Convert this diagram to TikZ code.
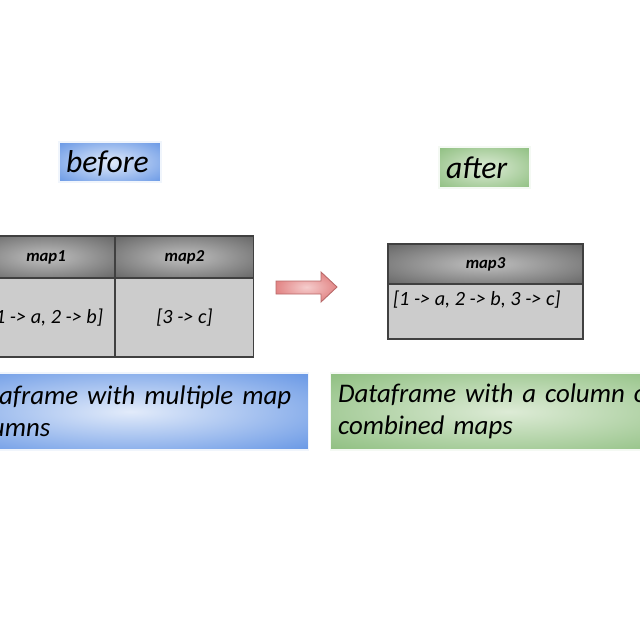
\documentclass[tikz,border=0pt]{standalone}
\usepackage{fontspec}
\setmainfont{Carlito}
\usepackage{tikz}
\usetikzlibrary{positioning}
\definecolor{dfblue}{HTML}{6D9BE6}
\definecolor{dfbluelight}{HTML}{E2EBFA}
\definecolor{dfgreen}{HTML}{92C184}
\definecolor{dfgreenlight}{HTML}{DDEBD6}
\definecolor{dfgray}{HTML}{6A6A6A}
\definecolor{dfgraylight}{HTML}{C0C0C0}
\definecolor{dfbody}{HTML}{CCCCCC}
\definecolor{dfred}{HTML}{DD7272}
\definecolor{dfredlight}{HTML}{F5CDCD}
\definecolor{dfredline}{HTML}{B86A6A}
\pgfdeclareradialshading{blueglow}{\pgfpoint{0bp}{0bp}}{color(0bp)=(dfbluelight); color(34bp)=(dfblue); color(50bp)=(dfblue)}
\pgfdeclareradialshading{greenglow}{\pgfpoint{0bp}{0bp}}{color(0bp)=(dfgreenlight); color(34bp)=(dfgreen); color(50bp)=(dfgreen)}
\pgfdeclareradialshading{grayglow}{\pgfpoint{0bp}{0bp}}{color(0bp)=(dfgraylight); color(34bp)=(dfgray); color(50bp)=(dfgray)}
\pgfdeclareradialshading{redglow}{\pgfpoint{0bp}{0bp}}{color(0bp)=(dfredlight); color(32bp)=(dfred); color(50bp)=(dfred)}
\tikzset{
  bluebox/.style={shading=blueglow, draw=white!90!dfblue, line width=0.6pt, outer sep=0pt},
  greenbox/.style={shading=greenglow, draw=white!90!dfgreen, line width=0.6pt, outer sep=0pt},
  tagtext/.style={font=\itshape\fontsize{18}{20}\selectfont, align=left, inner sep=0pt},
  notetext/.style={font=\itshape\fontsize{15.3}{18.2}\selectfont, align=left, inner sep=0.16cm},
  headcell/.style={shading=grayglow, draw=black!75, line width=0.6pt, outer sep=0pt, inner sep=0pt, font=\bfseries\itshape\fontsize{9.5}{11}\selectfont},
  bodycell/.style={fill=dfbody, draw=black!75, line width=0.6pt, outer sep=0pt, inner sep=0pt, font=\itshape\fontsize{11.5}{13}\selectfont},
  arrowshape/.style={shading=redglow, draw=dfredline, line width=0.5pt}
}

\begin{document}
\begin{tikzpicture}[x=0.02cm, y=-0.02cm]
  \useasboundingbox (0,0) rectangle (640,640);
  \clip (0,0) rectangle (640,640);

  % labels on top
  \node[bluebox, tagtext, minimum width=2.04cm, minimum height=0.8cm, text width=1.76cm, text depth=-0.08cm] (before) at (110,162) {before};
  \node[greenbox, tagtext, minimum width=1.82cm, minimum height=0.82cm, text width=1.54cm, text depth=-0.08cm] (after) at (484.5,167.5) {after};

  % table with two map columns
  \node[headcell, minimum width=2.76cm, minimum height=0.84cm] (h1) at (46,257) {map1};
  \node[headcell, right=0pt of h1, minimum width=2.78cm, minimum height=0.84cm] (h2) {map2};
  \node[bodycell, below=0pt of h1, minimum width=2.76cm, minimum height=1.58cm] (b1) {[1 -> a, 2 -> b]};
  \node[bodycell, below=0pt of h2, minimum width=2.78cm, minimum height=1.58cm] (b2) {[3 -> c]};

  \shadedraw[arrowshape] (276,281) -- (321,281) -- (321,272) -- (337,287) -- (321,302) -- (321,294) -- (276,294) -- cycle;

  % table with the combined column
  \node[headcell, minimum width=3.9cm, minimum height=0.8cm] (h3) at (485.5,264) {map3};
  \node[bodycell, below=0pt of h3, minimum width=3.9cm, minimum height=1.1cm] (b3) {};
  \node[bodycell, draw=none, fill=none, anchor=north west] (b3t) at ([xshift=0.1cm, yshift=-0.14cm]b3.north west) {[1 -> a, 2 -> b, 3 -> c]};

  % notes below
  \node[bluebox, notetext, minimum width=7.14cm, minimum height=1.54cm, text width=6.82cm] (nleft) at (130.5,411.5) {Dataframe with multiple map\\columns};
  \node[greenbox, notetext, minimum width=7.14cm, minimum height=1.54cm, text width=6.82cm] (nright) at (508.5,411.5) {Dataframe with a column of\\combined maps};
\end{tikzpicture}
\end{document}
